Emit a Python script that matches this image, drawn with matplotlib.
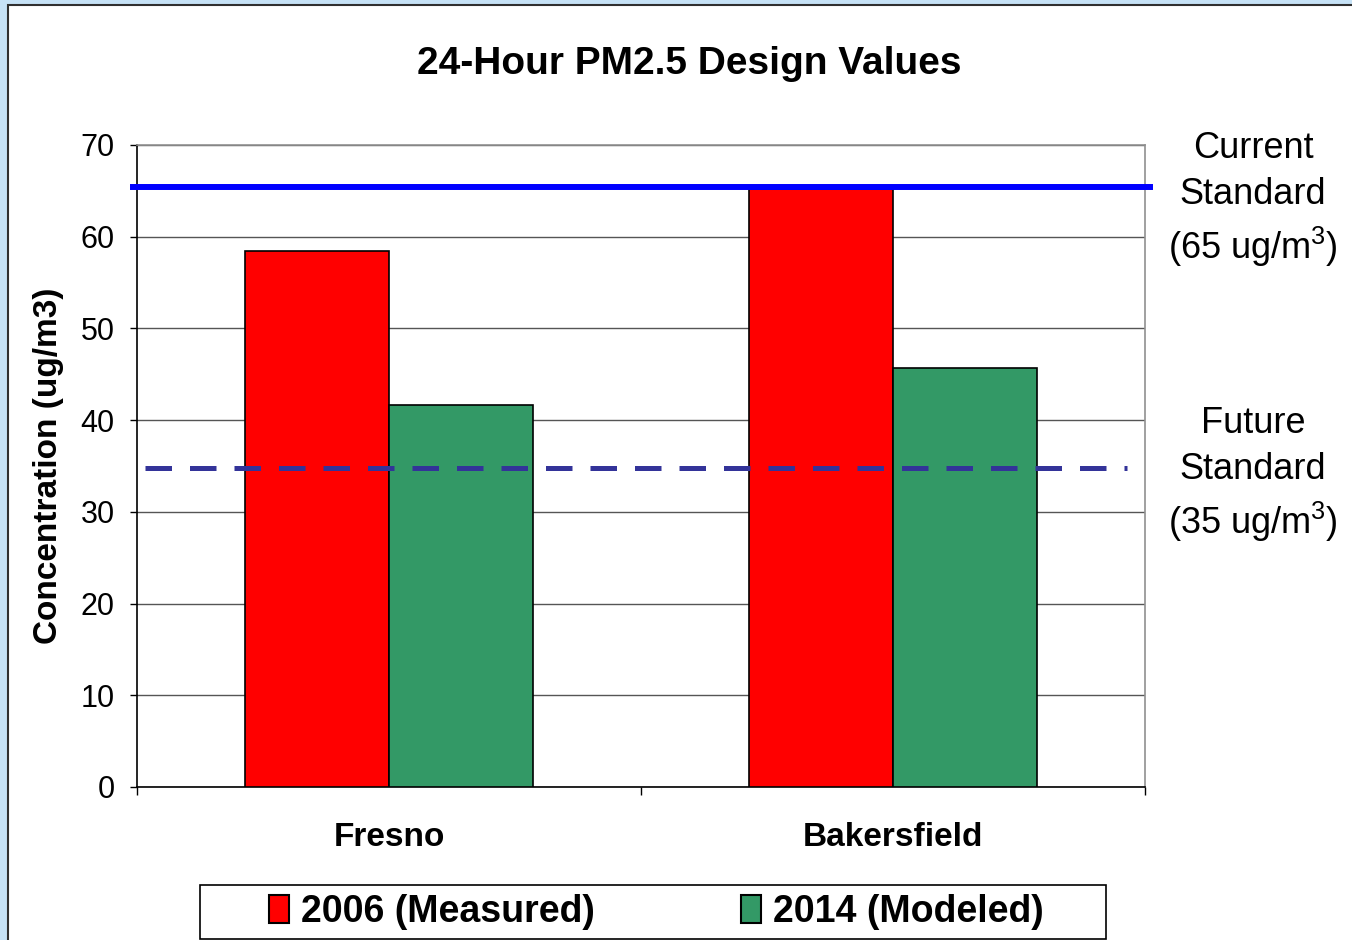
import numpy as np
import matplotlib.pyplot as plt
from matplotlib.patches import Rectangle

plt.rcParams['font.family'] = ['Liberation Sans', 'DejaVu Sans']
plt.rcParams['mathtext.fontset'] = 'custom'
plt.rcParams['mathtext.rm'] = 'Liberation Sans'

cities = ['Fresno', 'Bakersfield']
measured_2006 = [58.4, 65.2]
modeled_2014 = [41.6, 45.7]
current_std = 65.4
future_std = 34.8

W, H = 1352, 940
fig = plt.figure(figsize=(W / 100, H / 100), dpi=100)
fig.patch.set_facecolor('#c6e2f6')

# white chart area with dark border
fig.patches.append(Rectangle((8 / W, -0.05), 1.1, 1 - 5 / H + 0.05, transform=fig.transFigure,
                             facecolor='white', edgecolor='#303030', lw=1.5, zorder=-5))

ax = fig.add_axes([137 / W, 1 - 787 / H, 1008 / W, 642 / H])
ax.set_facecolor('white')

x = np.arange(len(cities))
bw = 0.286
ax.bar(x - bw / 2, measured_2006, bw, color='#ff0000', edgecolor='black', lw=1.2, zorder=3)
ax.bar(x + bw / 2, modeled_2014, bw, color='#339966', edgecolor='black', lw=1.2, zorder=3)

ax.axhline(current_std, xmin=-0.004, xmax=1.005, color='#0000ff', lw=4.3, zorder=4, clip_on=False)
ax.axhline(future_std, xmin=0.008, xmax=0.982, color='#333399', lw=3.6, zorder=4,
           dashes=(5.3, 3.6))

ax.set_xlim(-0.5, 1.5)
ax.set_ylim(0, 70)
ax.set_yticks(range(0, 71, 10))
ax.yaxis.grid(True, color='#555555', lw=1)
ax.set_axisbelow(True)

ax.set_xticks(x)
ax.set_xticklabels(cities, fontsize=24, fontweight='bold')
ax.set_xticks([-0.5, 0.5, 1.5], minor=True)
ax.tick_params(axis='x', which='major', length=0, pad=25)
ax.tick_params(axis='x', which='minor', length=6, width=1)
ax.tick_params(axis='y', labelsize=22, length=5, width=1, pad=11)

for s in ['left', 'bottom']:
    ax.spines[s].set_color('black')
for s in ['top', 'right']:
    ax.spines[s].set_color('#909090')
for s in ax.spines.values():
    s.set_linewidth(1.2)

ax.set_ylabel('Concentration (ug/m3)', fontsize=24, fontweight='bold', labelpad=12)

fig.text(689 / W, 1 - 64 / H, '24-Hour PM2.5 Design Values', fontsize=28, fontweight='bold',
         ha='center', va='center')

fig.text(1253 / W, 1 - 200 / H, 'Current\nStandard\n(65 ug/m$^3$)', fontsize=26,
         ha='center', va='center', linespacing=1.38)
fig.text(1253 / W, 1 - 475 / H, 'Future\nStandard\n(35 ug/m$^3$)', fontsize=26,
         ha='center', va='center', linespacing=1.38)

# legend box
fig.patches.append(Rectangle((200 / W, 1 - 939 / H), 906 / W, 54 / H, transform=fig.transFigure,
                             facecolor='white', edgecolor='black', lw=1.2, zorder=1))
handles = [Rectangle((0, 0), 1, 1, facecolor='#ff0000', edgecolor='black', lw=1.5),
           Rectangle((0, 0), 1, 1, facecolor='#339966', edgecolor='black', lw=1.5)]
fig.legend(handles, ['2006 (Measured)', '2014 (Modeled)'], ncol=2, frameon=False,
           loc='center', bbox_to_anchor=(656 / W, 1 - 912 / H),
           prop={'weight': 'bold', 'size': 27},
           handlelength=0.55, handleheight=0.75, handletextpad=0.3, columnspacing=3.9)

fig.savefig('out.png', dpi=100)
